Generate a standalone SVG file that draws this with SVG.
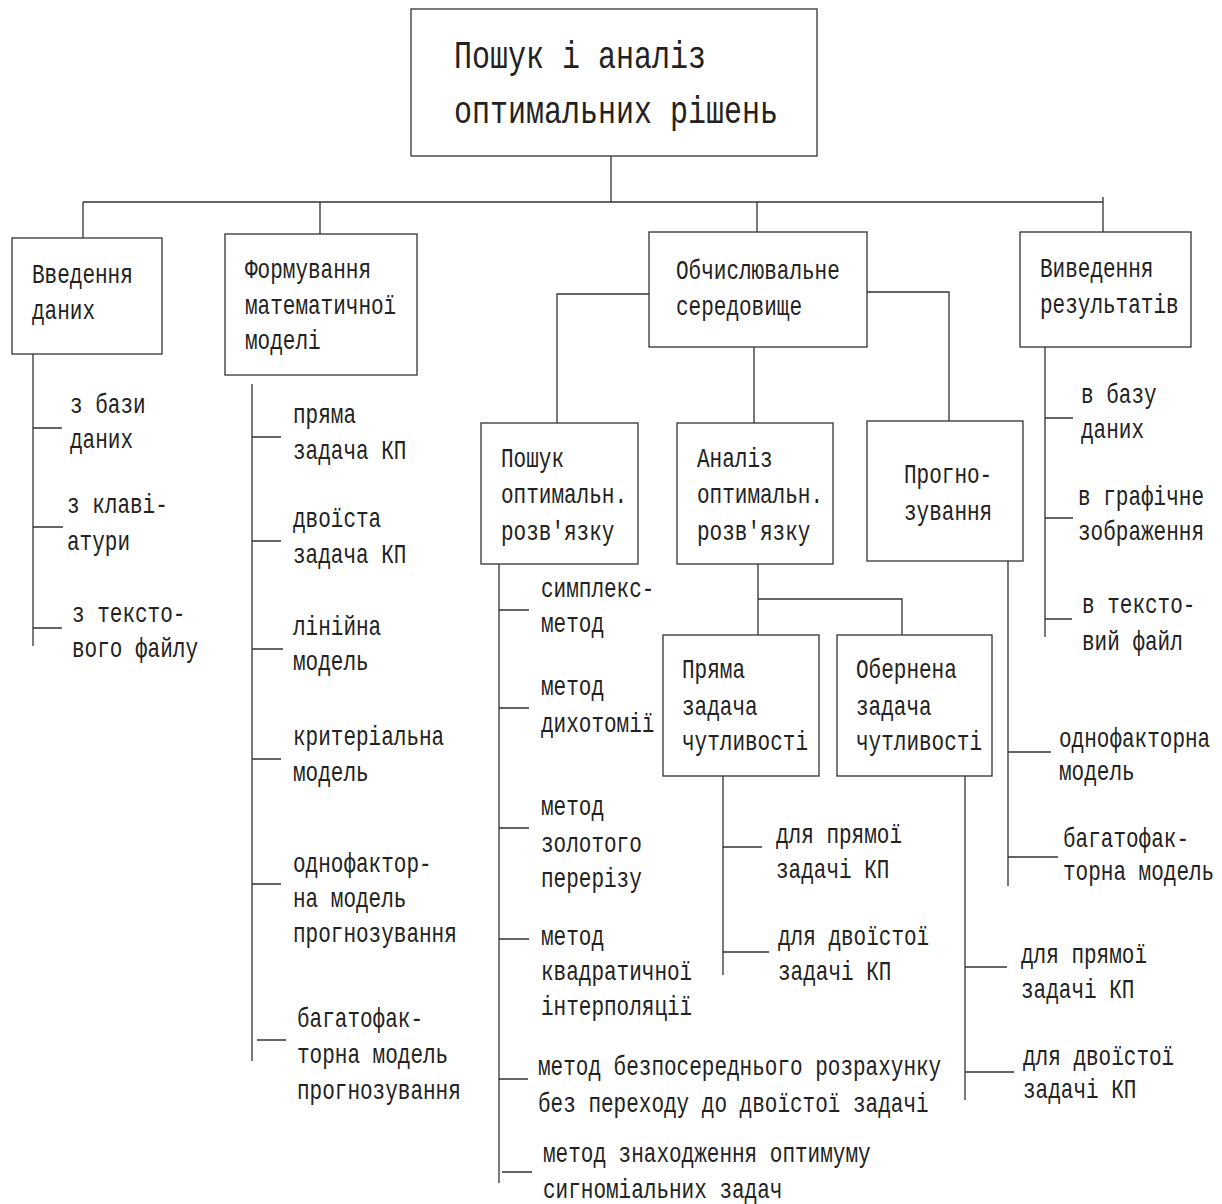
<svg xmlns="http://www.w3.org/2000/svg" width="1222" height="1204" viewBox="0 0 1222 1204">
<style>
.t{font-family:"Liberation Mono","Courier New",monospace;font-size:27.5px;fill:#222}
.h{font-family:"Liberation Mono","Courier New",monospace;font-size:38px;fill:#222}
.b{fill:#fff;stroke:#333;stroke-width:1.3}
.c{fill:none;stroke:#333;stroke-width:1.3}
</style>
<rect width="1222" height="1204" fill="#fff"/>
<g id="connectors" class="c">
<path d="M611,156V202M83,202H1103M83,202V238M320,202V234M757,202V232M1103,197V232"/>
<path d="M649,294H557V423M754,347V423M867,292H949V421"/>
<path d="M758,564V635M758,599H902V635"/>
<path d="M33,354V646M33,428H62M33,527H63M33,628H62"/>
<path d="M252,384V1061M252,437H281M252,541H281M252,649H283M252,759H281M252,884H281M257,1040H286"/>
<path d="M499,564V1183M499,610H529M499,708H529M499,828H529M499,939H529M499,1079H528M502,1172H532"/>
<path d="M723,776V975M723,847H762M723,952H769"/>
<path d="M965,776V1100M965,967H1007M965,1072H1014"/>
<path d="M1008,561V886M1008,752H1051M1008,857H1058"/>
<path d="M1045,347V637M1045,418H1073M1045,518H1073M1045,619H1072"/>
</g>
<g id="root">
<rect class="b" x="411" y="9" width="406" height="147"/>
<text class="h" x="454" y="68" textLength="252" lengthAdjust="spacingAndGlyphs">Пошук і аналіз</text>
<text class="h" x="454" y="123" textLength="324" lengthAdjust="spacingAndGlyphs">оптимальних рішень</text>
</g>
<g id="input">
<rect class="b" x="12" y="238" width="150" height="116"/>
<text class="t" x="32" y="283" textLength="100.8" lengthAdjust="spacingAndGlyphs">Введення</text>
<text class="t" x="32" y="319" textLength="63" lengthAdjust="spacingAndGlyphs">даних</text>
</g>
<g id="model">
<rect class="b" x="225" y="234" width="192" height="141"/>
<text class="t" x="245" y="278" textLength="126" lengthAdjust="spacingAndGlyphs">Формування</text>
<text class="t" x="245" y="314" textLength="151.2" lengthAdjust="spacingAndGlyphs">математичної</text>
<text class="t" x="245" y="349" textLength="75.6" lengthAdjust="spacingAndGlyphs">моделі</text>
</g>
<g id="compute">
<rect class="b" x="649" y="232" width="218" height="115"/>
<text class="t" x="676" y="279" textLength="163.8" lengthAdjust="spacingAndGlyphs">Обчислювальне</text>
<text class="t" x="676" y="315" textLength="126" lengthAdjust="spacingAndGlyphs">середовище</text>
</g>
<g id="output">
<rect class="b" x="1020" y="232" width="171" height="115"/>
<text class="t" x="1040" y="277" textLength="113.4" lengthAdjust="spacingAndGlyphs">Виведення</text>
<text class="t" x="1040" y="313" textLength="138.6" lengthAdjust="spacingAndGlyphs">результатів</text>
</g>
<g id="search">
<rect class="b" x="481" y="423" width="157" height="141"/>
<text class="t" x="501" y="467" textLength="63" lengthAdjust="spacingAndGlyphs">Пошук</text>
<text class="t" x="501" y="503" textLength="126" lengthAdjust="spacingAndGlyphs">оптимальн.</text>
<text class="t" x="501" y="540" textLength="113.4" lengthAdjust="spacingAndGlyphs">розв'язку</text>
</g>
<g id="analysis">
<rect class="b" x="677" y="423" width="156" height="141"/>
<text class="t" x="697" y="467" textLength="75.6" lengthAdjust="spacingAndGlyphs">Аналіз</text>
<text class="t" x="697" y="503" textLength="126" lengthAdjust="spacingAndGlyphs">оптимальн.</text>
<text class="t" x="697" y="540" textLength="113.4" lengthAdjust="spacingAndGlyphs">розв'язку</text>
</g>
<g id="forecast">
<rect class="b" x="867" y="421" width="156" height="140"/>
<text class="t" x="904" y="483" textLength="88.2" lengthAdjust="spacingAndGlyphs">Прогно-</text>
<text class="t" x="904" y="520" textLength="88.2" lengthAdjust="spacingAndGlyphs">зування</text>
</g>
<g id="direct">
<rect class="b" x="663" y="635" width="156" height="141"/>
<text class="t" x="682" y="678" textLength="63" lengthAdjust="spacingAndGlyphs">Пряма</text>
<text class="t" x="682" y="715" textLength="75.6" lengthAdjust="spacingAndGlyphs">задача</text>
<text class="t" x="682" y="750" textLength="126" lengthAdjust="spacingAndGlyphs">чутливості</text>
</g>
<g id="inverse">
<rect class="b" x="837" y="635" width="155" height="141"/>
<text class="t" x="856" y="678" textLength="100.8" lengthAdjust="spacingAndGlyphs">Обернена</text>
<text class="t" x="856" y="715" textLength="75.6" lengthAdjust="spacingAndGlyphs">задача</text>
<text class="t" x="856" y="750" textLength="126" lengthAdjust="spacingAndGlyphs">чутливості</text>
</g>
<g id="labels">
<text class="t" x="70" y="413" textLength="75.6" lengthAdjust="spacingAndGlyphs">з бази</text>
<text class="t" x="70" y="448" textLength="63" lengthAdjust="spacingAndGlyphs">даних</text>
<text class="t" x="67" y="513" textLength="100.8" lengthAdjust="spacingAndGlyphs">з клаві-</text>
<text class="t" x="67" y="550" textLength="63" lengthAdjust="spacingAndGlyphs">атури</text>
<text class="t" x="72" y="622" textLength="113.4" lengthAdjust="spacingAndGlyphs">з тексто-</text>
<text class="t" x="72" y="657" textLength="126" lengthAdjust="spacingAndGlyphs">вого файлу</text>

<text class="t" x="293" y="423" textLength="63" lengthAdjust="spacingAndGlyphs">пряма</text>
<text class="t" x="293" y="459" textLength="113.4" lengthAdjust="spacingAndGlyphs">задача КП</text>
<text class="t" x="293" y="527" textLength="88.2" lengthAdjust="spacingAndGlyphs">двоїста</text>
<text class="t" x="293" y="563" textLength="113.4" lengthAdjust="spacingAndGlyphs">задача КП</text>
<text class="t" x="293" y="635" textLength="88.2" lengthAdjust="spacingAndGlyphs">лінійна</text>
<text class="t" x="293" y="670" textLength="75.6" lengthAdjust="spacingAndGlyphs">модель</text>
<text class="t" x="293" y="745" textLength="151.2" lengthAdjust="spacingAndGlyphs">критеріальна</text>
<text class="t" x="293" y="781" textLength="75.6" lengthAdjust="spacingAndGlyphs">модель</text>
<text class="t" x="293" y="872" textLength="138.6" lengthAdjust="spacingAndGlyphs">однофактор-</text>
<text class="t" x="293" y="907" textLength="113.4" lengthAdjust="spacingAndGlyphs">на модель</text>
<text class="t" x="293" y="942" textLength="163.8" lengthAdjust="spacingAndGlyphs">прогнозування</text>
<text class="t" x="297" y="1027" textLength="126" lengthAdjust="spacingAndGlyphs">багатофак-</text>
<text class="t" x="297" y="1063" textLength="151.2" lengthAdjust="spacingAndGlyphs">торна модель</text>
<text class="t" x="297" y="1099" textLength="163.8" lengthAdjust="spacingAndGlyphs">прогнозування</text>

<text class="t" x="541" y="597" textLength="113.4" lengthAdjust="spacingAndGlyphs">симплекс-</text>
<text class="t" x="541" y="632" textLength="63" lengthAdjust="spacingAndGlyphs">метод</text>
<text class="t" x="541" y="695" textLength="63" lengthAdjust="spacingAndGlyphs">метод</text>
<text class="t" x="541" y="732" textLength="113.4" lengthAdjust="spacingAndGlyphs">дихотомії</text>
<text class="t" x="541" y="815" textLength="63" lengthAdjust="spacingAndGlyphs">метод</text>
<text class="t" x="541" y="852" textLength="100.8" lengthAdjust="spacingAndGlyphs">золотого</text>
<text class="t" x="541" y="887" textLength="100.8" lengthAdjust="spacingAndGlyphs">перерізу</text>
<text class="t" x="541" y="945" textLength="63" lengthAdjust="spacingAndGlyphs">метод</text>
<text class="t" x="541" y="980" textLength="151.2" lengthAdjust="spacingAndGlyphs">квадратичної</text>
<text class="t" x="541" y="1015" textLength="151.2" lengthAdjust="spacingAndGlyphs">інтерполяції</text>
<text class="t" x="538" y="1075" textLength="403.2" lengthAdjust="spacingAndGlyphs">метод безпосереднього розрахунку</text>
<text class="t" x="538" y="1112" textLength="390.6" lengthAdjust="spacingAndGlyphs">без переходу до двоїстої задачі</text>
<text class="t" x="543" y="1162" textLength="327.6" lengthAdjust="spacingAndGlyphs">метод знаходження оптимуму</text>
<text class="t" x="543" y="1198" textLength="239.4" lengthAdjust="spacingAndGlyphs">сигноміальних задач</text>

<text class="t" x="776" y="843" textLength="126" lengthAdjust="spacingAndGlyphs">для прямої</text>
<text class="t" x="776" y="878" textLength="113.4" lengthAdjust="spacingAndGlyphs">задачі КП</text>
<text class="t" x="778" y="945" textLength="151.2" lengthAdjust="spacingAndGlyphs">для двоїстої</text>
<text class="t" x="778" y="980" textLength="113.4" lengthAdjust="spacingAndGlyphs">задачі КП</text>

<text class="t" x="1021" y="963" textLength="126" lengthAdjust="spacingAndGlyphs">для прямої</text>
<text class="t" x="1021" y="998" textLength="113.4" lengthAdjust="spacingAndGlyphs">задачі КП</text>
<text class="t" x="1023" y="1065" textLength="151.2" lengthAdjust="spacingAndGlyphs">для двоїстої</text>
<text class="t" x="1023" y="1098" textLength="113.4" lengthAdjust="spacingAndGlyphs">задачі КП</text>

<text class="t" x="1059" y="747" textLength="151.2" lengthAdjust="spacingAndGlyphs">однофакторна</text>
<text class="t" x="1059" y="780" textLength="75.6" lengthAdjust="spacingAndGlyphs">модель</text>
<text class="t" x="1063" y="847" textLength="126" lengthAdjust="spacingAndGlyphs">багатофак-</text>
<text class="t" x="1063" y="880" textLength="151.2" lengthAdjust="spacingAndGlyphs">торна модель</text>

<text class="t" x="1081" y="403" textLength="75.6" lengthAdjust="spacingAndGlyphs">в базу</text>
<text class="t" x="1081" y="438" textLength="63" lengthAdjust="spacingAndGlyphs">даних</text>
<text class="t" x="1078" y="505" textLength="126" lengthAdjust="spacingAndGlyphs">в графічне</text>
<text class="t" x="1078" y="540" textLength="126" lengthAdjust="spacingAndGlyphs">зображення</text>
<text class="t" x="1082" y="613" textLength="113.4" lengthAdjust="spacingAndGlyphs">в тексто-</text>
<text class="t" x="1082" y="650" textLength="100.8" lengthAdjust="spacingAndGlyphs">вий файл</text>
</g>
</svg>
